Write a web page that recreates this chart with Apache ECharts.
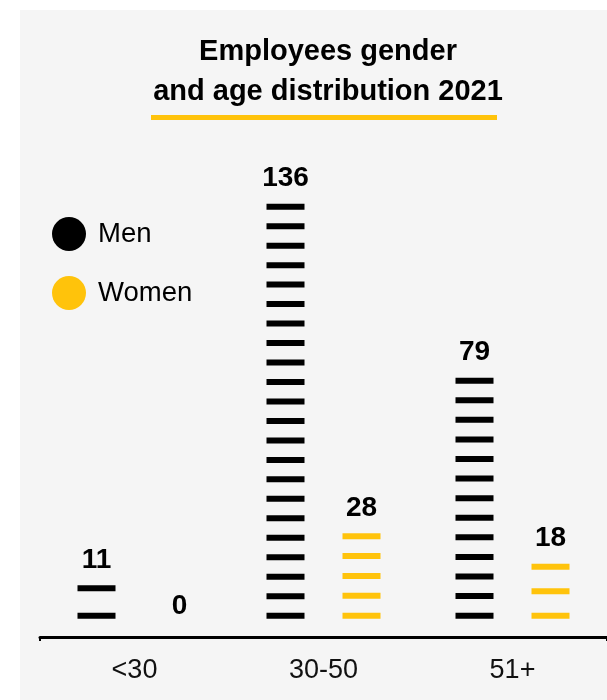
<!DOCTYPE html>
<html>
<head>
<meta charset="utf-8">
<script src="https://cdn.jsdelivr.net/npm/echarts@6/dist/echarts.min.js"></script>
<style>
  html, body { margin: 0; padding: 0; background: #ffffff; }
  .panel { position: absolute; left: 20px; top: 10px; right: 0; bottom: 0; background: #f5f5f5; }
  #chart { position: absolute; left: 0; top: 0; width: 607px; height: 700px; }
</style>
</head>
<body>
<div class="panel"></div>
<div id="chart"></div>
<script>
const categories = ['<30', '30-50', '51+'];
const menValues = [11, 136, 79];
const womenValues = [0, 28, 18];
// number of dashes drawn in each column, counted off the picture
const menDashes = [2, 22, 13];
const womenDashes = [0, 5, 3];

const FONT = 'Liberation Sans, Arial, sans-serif';
const MEN_COLOR = '#000000';
const WOMEN_COLOR = '#ffc30b';

const buildData = (values, dashes) => values.map((v, i) => {
  if (!dashes[i]) {
    return {
      value: v,
      itemStyle: { color: 'transparent' },
      label: { offset: [7, 19] },
    };
  }
  // bounding = own value, so the dashes stop at the bar's height
  return { value: v, symbolRepeat: dashes[i], symbolBoundingData: v };
});

const dashSeries = (name, color, values, dashes) => ({
  name,
  type: 'pictorialBar',
  symbol: 'rect',
  symbolSize: [38, 6],
  barWidth: 38,
  barGap: '100%',
  itemStyle: { color },
  label: {
    show: true,
    position: 'top',
    distance: 11,
    color: '#000',
    fontFamily: FONT,
    fontWeight: 'bold',
    fontSize: 28,
  },
  data: buildData(values, dashes),
});

const chart = echarts.init(document.getElementById('chart'));

chart.setOption({
  backgroundColor: 'transparent',
  animation: false,
  title: {
    text: 'Employees gender\nand age distribution 2021',
    left: 323,
    top: 27,
    textAlign: 'center',
    textStyle: {
      fontFamily: FONT,
      fontWeight: 'bold',
      fontSize: 29,
      lineHeight: 40,
      color: '#000',
    },
  },
  graphic: [
    {
      type: 'rect',
      shape: { x: 151, y: 115, width: 346, height: 5 },
      style: { fill: WOMEN_COLOR },
    },
  ],
  legend: {
    orient: 'vertical',
    left: 52,
    top: 217,
    padding: 0,
    itemWidth: 34,
    itemHeight: 34,
    itemGap: 25,
    textStyle: {
      fontFamily: FONT,
      fontSize: 27.5,
      color: '#000',
      padding: [0, 0, 0, 7],
    },
    data: [
      { name: 'Men', icon: 'circle' },
      { name: 'Women', icon: 'circle' },
    ],
  },
  grid: {
    left: 40,
    top: 161,
    width: 571,
    bottom: 63,
    containLabel: false,
  },
  xAxis: {
    type: 'category',
    data: categories,
    axisLine: {
      onZero: false,
      lineStyle: { color: '#000', width: 3 },
    },
    axisTick: {
      show: true,
      interval: (idx) => idx === 0,
      length: 4,
      lineStyle: { color: '#000', width: 2 },
    },
    axisLabel: {
      margin: 20,
      fontFamily: FONT,
      fontSize: 27,
      color: '#111',
    },
  },
  yAxis: {
    type: 'value',
    min: -6,
    max: 150,
    show: false,
    splitLine: { show: false },
  },
  series: [
    dashSeries('Men', MEN_COLOR, menValues, menDashes),
    dashSeries('Women', WOMEN_COLOR, womenValues, womenDashes),
  ],
});
</script>
</body>
</html>
